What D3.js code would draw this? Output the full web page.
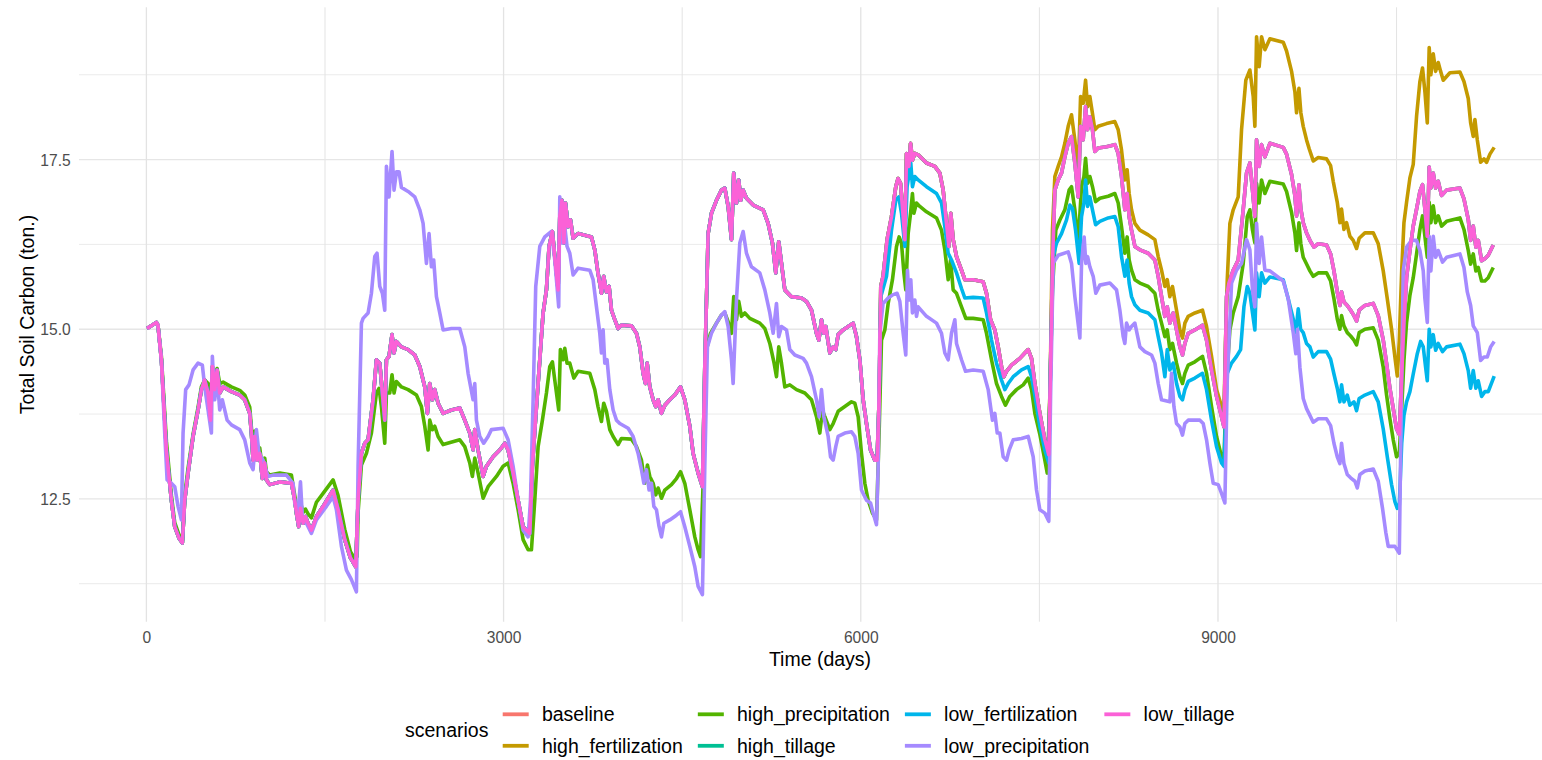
<!DOCTYPE html>
<html>
<head>
<meta charset="utf-8">
<script src="https://cdn.jsdelivr.net/npm/d3@7"></script>
<style>
body{margin:0;background:#fff;}
svg{display:block;font-family:"Liberation Sans",Arial,Helvetica,sans-serif;}
</style>
</head>
<body>
<div id="chart"></div>
<script>
// scenario names, in legend / drawing order
const scenarios=['baseline','high_fertilization','high_precipitation','high_tillage','low_fertilization','low_precipitation','low_tillage']
const colors=['#F8766D','#C49A00','#53B400','#00C094','#00B6EB','#A58AFF','#FB61D7']
const xTicks=[0,3000,6000,9000]
const xMinor=[1500,4500,7500,10500]
const yTicks=[12.5,15,17.5]
const yMinor=[11.25,13.75,16.25,18.75]

// [day, total soil carbon]
const lowTillage=[[5,15.01],[84,15.10],[97,15.06],[126,14.55],[168,13.22],[210,12.48],[238,12.09],[274,11.92],[302,11.85],[322,12.48],[350,12.88],[392,13.42],[434,13.81],[462,14.11],[490,14.25],[518,14.06],[538,13.66],[554,14.45],[574,14.11],[594,14.40],[616,14.06],[644,14.15],[714,14.08],[784,14.03],[826,13.96],[868,13.76],[882,13.47],[896,13.07],[910,13.42],[929,13.07],[952,13.17],[974,12.80],[994,13.03],[1008,12.78],[1036,12.71],[1120,12.75],[1218,12.73],[1246,12.48],[1260,12.29],[1279,12.09],[1294,12.36],[1316,12.14],[1336,12.24],[1358,12.14],[1386,12.04],[1428,12.24],[1484,12.39],[1568,12.63],[1610,12.34],[1666,11.90],[1714,11.63],[1758,11.50],[1778,12.48],[1806,13.17],[1834,13.32],[1862,13.37],[1904,13.96],[1932,14.55],[1960,14.50],[1982,14.06],[2002,13.66],[2016,14.55],[2038,14.60],[2063,14.92],[2080,14.65],[2100,14.82],[2142,14.74],[2198,14.70],[2254,14.62],[2296,14.45],[2338,14.15],[2360,13.76],[2380,14.20],[2402,13.96],[2422,14.11],[2450,13.91],[2492,13.76],[2562,13.81],[2632,13.84],[2674,13.66],[2716,13.47],[2744,13.22],[2758,13.52],[2786,13.22],[2828,12.83],[2856,12.98],[2912,13.12],[2968,13.22],[3010,13.32],[3038,13.22],[3080,12.88],[3122,12.48],[3164,12.09],[3220,11.99],[3242,12.98],[3270,13.71],[3304,14.55],[3332,15.24],[3360,15.58],[3382,16.22],[3410,16.44],[3430,16.07],[3458,15.58],[3472,16.66],[3491,16.90],[3506,16.27],[3520,16.86],[3542,16.51],[3562,16.61],[3584,16.34],[3626,16.41],[3738,16.36],[3766,16.17],[3793,15.83],[3822,15.53],[3841,15.78],[3864,15.55],[3886,15.63],[3906,15.28],[3934,15.14],[3962,15.01],[3990,15.06],[4074,15.05],[4116,14.94],[4144,14.74],[4172,14.35],[4192,14.20],[4206,14.50],[4228,14.15],[4256,13.96],[4278,13.86],[4298,13.96],[4326,13.76],[4354,13.88],[4396,13.96],[4438,14.03],[4486,14.15],[4522,13.96],[4564,13.57],[4592,13.17],[4634,12.88],[4670,12.68],[4690,14.45],[4718,16.41],[4746,16.71],[4788,16.90],[4830,17.05],[4858,17.08],[4886,16.81],[4914,16.32],[4933,17.30],[4956,16.86],[4975,17.20],[4992,16.90],[5012,17.05],[5040,16.93],[5096,16.83],[5180,16.76],[5222,16.56],[5258,16.27],[5286,15.83],[5311,16.29],[5334,15.97],[5362,15.58],[5418,15.48],[5502,15.46],[5544,15.41],[5586,15.28],[5628,14.94],[5648,14.84],[5670,15.14],[5690,14.94],[5706,15.04],[5740,14.65],[5768,14.74],[5790,14.70],[5810,14.92],[5852,14.99],[5894,15.04],[5936,15.09],[5964,14.89],[5992,14.55],[6020,13.96],[6048,13.61],[6082,13.22],[6118,13.07],[6137,13.07],[6154,13.96],[6168,15.63],[6187,15.78],[6221,16.32],[6258,16.66],[6294,17.10],[6313,17.22],[6334,17.15],[6356,16.66],[6370,16.32],[6384,17.59],[6404,17.40],[6418,17.74],[6434,17.49],[6454,17.59],[6482,17.57],[6552,17.45],[6622,17.40],[6664,17.30],[6692,17.05],[6720,16.56],[6740,16.22],[6756,16.71],[6776,16.32],[6804,16.07],[6846,15.87],[6874,15.73],[6944,15.73],[7028,15.70],[7056,15.53],[7090,15.14],[7126,14.99],[7154,14.74],[7182,14.45],[7202,14.30],[7224,14.38],[7266,14.47],[7336,14.57],[7378,14.65],[7406,14.70],[7434,14.57],[7462,14.20],[7504,13.76],[7546,13.37],[7579,13.15],[7594,14.50],[7610,15.97],[7630,17.05],[7658,17.20],[7686,17.30],[7714,17.54],[7742,17.74],[7770,17.84],[7798,17.45],[7826,16.95],[7846,17.99],[7868,17.79],[7888,18.28],[7905,17.94],[7924,18.13],[7946,17.94],[7966,17.62],[7994,17.67],[8064,17.69],[8134,17.72],[8162,17.59],[8190,17.25],[8218,16.76],[8237,17.00],[8254,16.66],[8274,16.46],[8302,16.22],[8344,16.17],[8414,16.12],[8470,16.02],[8498,15.78],[8526,15.48],[8554,15.19],[8574,15.33],[8596,15.09],[8624,15.24],[8652,14.99],[8680,14.74],[8702,14.62],[8722,14.79],[8750,14.94],[8806,14.99],[8870,15.06],[8904,14.84],[8946,14.40],[8988,14.01],[9030,13.71],[9050,13.56],[9072,15.48],[9092,15.68],[9128,15.87],[9170,16.02],[9212,16.76],[9240,17.30],[9268,17.45],[9290,17.05],[9310,16.66],[9324,17.79],[9346,17.40],[9366,17.72],[9394,17.54],[9436,17.74],[9548,17.68],[9576,17.58],[9618,17.28],[9646,16.97],[9660,16.67],[9680,17.13],[9696,16.77],[9716,16.57],[9744,16.42],[9772,16.31],[9806,16.21],[9842,16.26],[9912,16.24],[9946,16.11],[9974,15.86],[10002,15.55],[10024,15.35],[10038,15.55],[10058,15.40],[10086,15.35],[10114,15.28],[10142,15.20],[10164,15.12],[10186,15.28],[10234,15.35],[10304,15.38],[10346,15.20],[10388,14.84],[10416,14.49],[10444,14.13],[10472,13.83],[10500,13.53],[10523,13.45],[10543,14.34],[10562,15.10],[10584,15.76],[10612,16.16],[10640,16.52],[10668,16.77],[10696,17.03],[10718,17.13],[10738,16.77],[10758,16.37],[10774,17.39],[10788,17.08],[10808,17.30],[10828,17.08],[10850,17.18],[10878,16.97],[10920,17.05],[11032,17.08],[11066,16.92],[11102,16.62],[11122,16.31],[11144,16.52],[11166,16.21],[11186,16.31],[11214,16.01],[11242,16.04],[11270,16.09],[11312,16.24]]

// baseline and high_tillage sit right under low_tillage the whole way
const baseline=lowTillage
const highTillage=lowTillage

// high_fertilization only separates from low_tillage after ~7590 days
const highFertLate=[[7594,14.60],[7610,16.46],[7630,17.25],[7658,17.40],[7686,17.54],[7714,17.74],[7742,17.99],[7770,18.16],[7798,17.79],[7826,17.30],[7846,18.43],[7868,18.33],[7888,18.67],[7905,18.28],[7924,18.43],[7946,18.18],[7966,17.94],[7994,17.99],[8064,18.03],[8134,18.06],[8162,17.94],[8190,17.64],[8218,17.20],[8237,17.35],[8254,17.00],[8274,16.76],[8302,16.56],[8344,16.46],[8414,16.39],[8470,16.32],[8498,16.07],[8526,15.87],[8554,15.63],[8574,15.73],[8596,15.48],[8618,15.63],[8652,15.28],[8680,14.99],[8702,14.87],[8722,15.09],[8750,15.19],[8806,15.24],[8870,15.28],[8904,15.04],[8946,14.60],[8988,14.11],[9030,13.86],[9050,13.76],[9066,14.99],[9078,15.73],[9100,16.56],[9128,16.76],[9170,16.95],[9198,17.94],[9234,18.67],[9268,18.82],[9296,18.43],[9310,17.99],[9324,19.31],[9346,18.87],[9366,19.31],[9394,19.12],[9436,19.28],[9548,19.23],[9576,19.10],[9618,18.80],[9646,18.50],[9660,18.19],[9680,18.55],[9696,18.19],[9716,17.99],[9744,17.79],[9766,17.66],[9800,17.48],[9842,17.53],[9912,17.51],[9946,17.41],[9968,17.18],[10002,16.87],[10024,16.57],[10038,16.77],[10058,16.47],[10080,16.57],[10108,16.37],[10136,16.31],[10164,16.19],[10186,16.34],[10234,16.42],[10304,16.42],[10346,16.26],[10388,15.86],[10422,15.45],[10458,15.00],[10486,14.59],[10506,14.31],[10523,14.84],[10543,15.86],[10562,16.57],[10584,16.87],[10612,17.23],[10640,17.43],[10668,18.14],[10696,18.65],[10718,18.85],[10738,18.50],[10758,18.04],[10774,19.15],[10788,18.75],[10808,19.06],[10828,18.80],[10850,18.93],[10870,18.80],[10892,18.67],[10948,18.78],[11032,18.79],[11066,18.65],[11102,18.40],[11122,18.04],[11144,17.84],[11158,18.09],[11178,17.79],[11206,17.46],[11234,17.51],[11256,17.46],[11284,17.58],[11320,17.68]]
const highFert=lowTillage.filter(d=>d[0]<7590).concat(highFertLate)

// low_fertilization only separates after ~6160 days
const lowFertLate=[[6168,15.48],[6216,15.78],[6258,16.46],[6294,16.90],[6319,16.95],[6342,16.71],[6370,16.22],[6389,17.10],[6420,17.45],[6434,17.10],[6454,17.25],[6482,17.20],[6552,17.10],[6636,17.00],[6678,16.86],[6706,16.51],[6734,16.12],[6762,16.02],[6804,15.83],[6846,15.60],[6874,15.46],[6944,15.47],[7028,15.46],[7056,15.24],[7098,14.84],[7140,14.50],[7182,14.25],[7210,14.11],[7238,14.20],[7280,14.30],[7350,14.40],[7406,14.45],[7434,14.30],[7462,14.03],[7504,13.57],[7546,13.22],[7579,13.03],[7594,14.50],[7616,16.07],[7644,16.27],[7686,16.41],[7728,16.61],[7756,16.83],[7778,16.78],[7804,16.46],[7834,15.97],[7854,16.66],[7874,16.86],[7888,17.20],[7905,16.81],[7924,16.95],[7946,16.76],[7972,16.54],[8008,16.59],[8078,16.64],[8134,16.66],[8162,16.51],[8190,16.07],[8218,15.78],[8237,16.02],[8254,15.68],[8274,15.48],[8302,15.36],[8344,15.28],[8414,15.24],[8470,15.14],[8498,14.89],[8526,14.65],[8554,14.30],[8574,14.70],[8596,14.40],[8624,14.50],[8652,14.20],[8680,14.01],[8702,13.96],[8722,14.11],[8750,14.23],[8806,14.28],[8870,14.35],[8904,14.11],[8946,13.66],[8988,13.27],[9030,13.03],[9050,12.98],[9078,14.35],[9114,14.50],[9156,14.60],[9190,14.70],[9218,15.33],[9246,15.63],[9268,15.53],[9290,15.24],[9310,14.99],[9324,15.83],[9346,15.48],[9366,15.83],[9394,15.68],[9436,15.77],[9548,15.73],[9590,15.45],[9632,15.15],[9654,14.95],[9674,15.30],[9694,15.00],[9716,14.95],[9744,14.79],[9772,14.74],[9800,14.59],[9842,14.67],[9912,14.67],[9946,14.56],[9974,14.34],[10002,14.13],[10024,13.93],[10038,14.18],[10058,13.93],[10086,14.03],[10108,13.88],[10142,13.93],[10164,13.80],[10186,13.98],[10234,14.03],[10304,14.08],[10346,13.93],[10388,13.53],[10422,13.12],[10458,12.71],[10486,12.46],[10506,12.36],[10523,12.41],[10543,13.32],[10562,13.73],[10584,13.93],[10612,14.08],[10640,14.34],[10674,14.64],[10702,14.82],[10724,14.74],[10744,14.44],[10758,14.24],[10774,15.00],[10788,14.74],[10808,14.92],[10828,14.69],[10850,14.79],[10886,14.67],[10920,14.74],[11032,14.78],[11066,14.64],[11102,14.39],[11122,14.13],[11144,14.39],[11166,14.13],[11186,14.24],[11214,14.01],[11242,14.08],[11270,14.08],[11320,14.31]]
const lowFert=lowTillage.filter(d=>d[0]<6160).concat(lowFertLate)

const highPrecip=[[5,15.01],[84,15.10],[97,15.06],[126,14.60],[168,13.35],[210,12.55],[238,12.15],[274,11.97],[302,11.88],[322,12.55],[350,12.95],[392,13.45],[434,13.85],[462,14.15],[490,14.25],[518,14.20],[538,13.90],[554,14.40],[574,14.30],[594,14.42],[616,14.20],[644,14.22],[714,14.15],[784,14.10],[826,14.03],[868,13.85],[882,13.55],[896,13.25],[910,13.50],[929,13.20],[952,13.25],[974,12.95],[994,13.10],[1008,12.90],[1036,12.85],[1120,12.88],[1218,12.85],[1246,12.55],[1260,12.40],[1279,12.25],[1294,12.45],[1316,12.30],[1336,12.35],[1358,12.28],[1386,12.22],[1428,12.45],[1484,12.58],[1568,12.78],[1610,12.55],[1666,12.05],[1714,11.72],[1750,11.62],[1770,11.65],[1778,12.30],[1806,13.00],[1848,13.17],[1890,13.47],[1932,14.06],[1954,14.13],[1974,13.86],[2002,13.32],[2016,14.06],[2044,14.06],[2063,14.33],[2080,14.06],[2100,14.23],[2142,14.15],[2198,14.11],[2268,14.03],[2310,13.86],[2338,13.57],[2366,13.22],[2380,13.66],[2402,13.52],[2422,13.57],[2450,13.42],[2492,13.30],[2632,13.37],[2674,13.27],[2716,13.03],[2738,12.83],[2758,13.10],[2786,12.88],[2828,12.51],[2870,12.68],[2940,12.83],[2996,12.98],[3038,13.03],[3080,12.73],[3122,12.34],[3164,11.90],[3206,11.75],[3234,11.75],[3262,12.48],[3290,13.27],[3326,13.66],[3360,14.06],[3388,14.45],[3410,14.52],[3430,14.25],[3463,13.81],[3477,14.70],[3500,14.55],[3514,14.72],[3533,14.50],[3556,14.50],[3590,14.28],[3626,14.38],[3724,14.35],[3766,14.11],[3793,13.86],[3822,13.64],[3841,13.91],[3864,13.79],[3892,13.52],[3920,13.42],[3962,13.30],[3990,13.39],[4074,13.38],[4116,13.27],[4158,13.07],[4186,12.73],[4208,13.00],[4228,12.83],[4256,12.73],[4278,12.56],[4298,12.66],[4326,12.51],[4354,12.63],[4410,12.71],[4452,12.80],[4486,12.90],[4522,12.73],[4564,12.34],[4606,11.94],[4634,11.75],[4654,11.65],[4676,12.73],[4704,14.70],[4738,14.94],[4788,15.09],[4830,15.21],[4858,15.24],[4886,15.11],[4914,14.94],[4933,15.48],[4956,15.14],[4975,15.41],[4998,15.19],[5026,15.24],[5068,15.16],[5152,15.09],[5194,15.01],[5236,14.79],[5272,14.50],[5292,14.30],[5311,14.74],[5334,14.50],[5362,14.15],[5404,14.18],[5460,14.11],[5530,14.06],[5586,13.96],[5628,13.71],[5656,13.47],[5678,13.81],[5698,13.71],[5740,13.52],[5768,13.61],[5810,13.79],[5866,13.86],[5922,13.93],[5950,13.91],[5978,13.71],[6006,13.17],[6034,12.73],[6062,12.48],[6098,12.29],[6132,12.19],[6154,13.47],[6174,14.84],[6202,14.99],[6230,15.38],[6266,15.73],[6300,16.22],[6322,16.36],[6342,16.27],[6362,15.83],[6378,15.58],[6398,16.41],[6418,16.71],[6434,17.00],[6446,16.71],[6468,16.86],[6496,16.81],[6552,16.73],[6636,16.64],[6678,16.46],[6706,16.17],[6734,15.73],[6754,16.02],[6776,15.58],[6804,15.53],[6846,15.33],[6882,15.16],[6944,15.16],[7028,15.14],[7056,14.94],[7098,14.55],[7140,14.20],[7182,14.01],[7215,13.88],[7252,14.01],[7308,14.11],[7364,14.18],[7406,14.28],[7434,14.11],[7462,13.76],[7504,13.45],[7546,13.07],[7566,12.88],[7588,14.01],[7610,15.58],[7638,16.46],[7672,16.61],[7714,16.76],[7750,17.05],[7770,17.10],[7798,16.76],[7826,16.27],[7854,17.10],[7874,17.25],[7888,17.52],[7905,17.15],[7924,17.25],[7946,17.10],[7972,16.88],[8008,16.93],[8078,16.96],[8134,17.00],[8162,16.86],[8190,16.51],[8218,16.12],[8237,16.36],[8254,16.02],[8274,15.87],[8302,15.73],[8344,15.68],[8414,15.63],[8470,15.53],[8498,15.28],[8526,15.09],[8554,14.89],[8574,14.99],[8596,14.70],[8618,14.79],[8652,14.50],[8680,14.30],[8702,14.20],[8722,14.35],[8750,14.47],[8806,14.52],[8870,14.60],[8904,14.35],[8946,13.86],[8988,13.42],[9030,13.12],[9050,13.07],[9072,14.25],[9100,14.99],[9128,15.24],[9170,15.48],[9212,15.97],[9246,16.66],[9268,16.76],[9290,16.46],[9310,16.27],[9324,17.15],[9346,16.86],[9366,17.20],[9394,17.00],[9436,17.18],[9548,17.14],[9576,17.03],[9618,16.72],[9646,16.42],[9660,16.16],[9680,16.57],[9696,16.26],[9716,16.06],[9744,15.96],[9772,15.86],[9800,15.78],[9842,15.83],[9912,15.83],[9946,15.71],[9974,15.45],[10002,15.15],[10024,15.00],[10038,15.20],[10058,15.05],[10086,14.95],[10114,14.90],[10142,14.84],[10164,14.77],[10186,14.95],[10234,15.00],[10304,15.02],[10346,14.84],[10388,14.44],[10416,14.03],[10444,13.68],[10472,13.37],[10500,13.12],[10523,13.17],[10543,13.83],[10562,14.54],[10584,15.10],[10612,15.50],[10640,15.76],[10668,16.11],[10696,16.47],[10718,16.67],[10738,16.37],[10758,16.06],[10774,16.87],[10788,16.57],[10808,16.82],[10828,16.57],[10850,16.67],[10878,16.52],[10920,16.59],[11032,16.64],[11066,16.47],[11102,16.16],[11122,15.96],[11144,16.11],[11166,15.86],[11186,15.91],[11214,15.71],[11242,15.71],[11270,15.76],[11312,15.91]]

const lowPrecip=[[5,15.01],[84,15.10],[97,15.06],[126,14.55],[154,13.47],[174,12.78],[210,12.73],[238,12.68],[266,12.39],[294,12.19],[308,13.47],[330,14.11],[358,14.18],[392,14.40],[434,14.50],[470,14.47],[490,14.15],[518,13.81],[546,13.47],[554,14.60],[574,13.96],[594,14.30],[616,13.81],[638,13.96],[678,13.66],[714,13.59],[784,13.52],[826,13.37],[868,13.03],[896,12.93],[924,13.52],[946,13.17],[980,13.07],[1022,12.83],[1064,12.85],[1176,12.85],[1232,12.73],[1246,12.44],[1274,12.29],[1294,12.75],[1310,12.24],[1344,12.14],[1386,11.99],[1428,12.19],[1512,12.39],[1568,12.53],[1596,12.34],[1638,11.80],[1680,11.45],[1722,11.31],[1764,11.13],[1778,12.98],[1806,15.09],[1820,15.16],[1862,15.24],[1890,15.53],[1918,16.07],[1937,16.12],[1960,15.63],[1982,15.53],[2002,15.28],[2016,17.40],[2038,16.95],[2063,17.62],[2080,17.05],[2100,17.32],[2122,17.32],[2142,17.09],[2198,17.03],[2254,16.95],[2296,16.76],[2324,16.56],[2352,15.97],[2374,16.41],[2394,15.92],[2413,16.02],[2436,15.48],[2464,15.24],[2492,14.99],[2562,15.01],[2632,15.01],[2674,14.74],[2702,14.35],[2744,13.96],[2758,14.20],[2772,13.66],[2800,13.42],[2833,13.32],[2870,13.42],[2898,13.52],[2996,13.54],[3038,13.37],[3080,12.98],[3122,12.48],[3164,12.04],[3206,11.94],[3226,12.48],[3248,13.96],[3270,15.63],[3304,16.22],[3346,16.36],[3402,16.44],[3430,16.02],[3449,15.63],[3463,15.33],[3472,16.95],[3491,16.27],[3514,16.51],[3533,16.22],[3556,16.12],[3584,15.80],[3626,15.90],[3724,15.87],[3752,15.73],[3780,15.33],[3808,14.94],[3822,14.65],[3836,14.99],[3850,14.50],[3869,14.55],[3892,14.11],[3920,13.81],[3948,13.66],[3976,13.61],[4046,13.54],[4088,13.42],[4130,13.17],[4158,12.93],[4178,12.73],[4200,12.93],[4222,12.63],[4242,12.73],[4262,12.39],[4284,12.34],[4306,12.09],[4326,11.94],[4346,12.14],[4396,12.19],[4452,12.26],[4486,12.31],[4522,12.09],[4564,11.80],[4606,11.50],[4634,11.21],[4670,11.09],[4690,12.98],[4712,14.74],[4746,14.94],[4788,15.09],[4830,15.21],[4858,15.26],[4886,15.04],[4914,14.55],[4928,14.20],[4956,15.43],[4984,16.27],[5012,16.44],[5040,16.12],[5082,15.92],[5152,15.83],[5194,15.58],[5236,15.24],[5264,14.94],[5292,15.38],[5311,14.89],[5334,15.04],[5376,14.99],[5404,14.70],[5446,14.62],[5516,14.57],[5544,14.50],[5586,14.30],[5628,13.96],[5650,13.71],[5670,14.11],[5690,13.71],[5726,13.42],[5746,13.12],[5768,13.07],[5790,13.27],[5810,13.42],[5866,13.47],[5922,13.49],[5950,13.42],[5978,13.17],[6006,12.63],[6048,12.48],[6082,12.44],[6104,12.29],[6132,12.12],[6146,12.98],[6160,14.94],[6187,15.38],[6230,15.46],[6272,15.51],[6305,15.53],[6328,15.41],[6356,14.94],[6378,14.62],[6392,15.87],[6406,15.43],[6420,15.73],[6434,15.24],[6454,15.43],[6468,15.19],[6482,15.33],[6552,15.19],[6636,15.09],[6678,14.94],[6706,14.65],[6734,14.55],[6762,14.94],[6790,15.14],[6804,14.79],[6846,14.55],[6880,14.38],[6944,14.40],[7028,14.38],[7070,14.11],[7106,13.66],[7126,13.76],[7146,13.47],[7168,13.47],[7196,13.12],[7224,13.07],[7246,13.22],[7280,13.37],[7350,13.39],[7406,13.42],[7448,13.12],[7476,12.63],[7504,12.34],[7546,12.29],[7579,12.17],[7594,14.01],[7616,15.97],[7658,16.09],[7742,16.14],[7770,15.97],[7798,15.48],[7840,14.87],[7854,15.97],[7876,16.36],[7890,15.97],[7905,16.07],[7924,15.92],[7952,15.78],[7974,15.53],[8008,15.65],[8092,15.68],[8148,15.58],[8176,15.28],[8204,14.89],[8218,14.79],[8232,15.09],[8254,14.99],[8274,15.04],[8302,15.09],[8344,14.74],[8386,14.67],[8442,14.62],[8470,14.50],[8498,14.20],[8526,13.96],[8596,13.93],[8610,14.35],[8630,13.86],[8652,13.61],[8680,13.56],[8702,13.44],[8722,13.61],[8750,13.66],[8848,13.66],[8876,13.61],[8904,13.37],[8932,13.03],[8960,12.73],[9002,12.71],[9030,12.58],[9058,12.44],[9078,14.25],[9114,15.68],[9156,15.87],[9198,15.97],[9240,16.32],[9268,16.17],[9290,15.58],[9310,15.33],[9324,16.56],[9346,15.97],[9366,16.36],[9394,15.87],[9436,15.86],[9548,15.71],[9590,15.45],[9632,14.95],[9654,14.64],[9668,15.00],[9688,14.44],[9716,13.98],[9744,13.83],[9772,13.73],[9800,13.63],[9842,13.68],[9912,13.68],[9946,13.58],[9974,13.32],[10002,13.12],[10024,13.02],[10038,13.32],[10058,13.02],[10086,12.86],[10114,12.81],[10150,12.76],[10170,12.66],[10192,12.86],[10234,12.91],[10304,12.94],[10346,12.76],[10382,12.36],[10410,12.00],[10430,11.80],[10486,11.80],[10523,11.70],[10543,14.34],[10556,15.86],[10584,16.21],[10626,16.31],[10668,16.31],[10696,16.16],[10724,15.86],[10738,15.45],[10758,15.10],[10774,16.37],[10788,15.86],[10808,16.37],[10828,16.06],[10850,16.16],[10886,15.99],[10920,16.06],[11032,16.11],[11066,15.91],[11094,15.55],[11122,15.35],[11144,15.05],[11178,14.95],[11206,14.54],[11234,14.59],[11262,14.59],[11290,14.74],[11320,14.82]]

const seriesData=[baseline,highFert,highPrecip,highTillage,lowFert,lowPrecip,lowTillage]

const w=1542, h=760
const padL=79, padR=1561, padT=7.3, padB=621.7

const xScale=d3.scaleLinear().domain([-566,11881]).range([padL,padR])
const yScale=d3.scaleLinear().domain([10.69,19.744]).range([padB,padT])

const svg=d3.select('#chart').append('svg').attr('width',w).attr('height',h)
svg.append('rect').attr('width',w).attr('height',h).attr('fill','#fff')

// grid
const grid=svg.append('g')
grid.selectAll('.ym').data(yMinor).enter().append('line')
  .attr('x1',padL).attr('x2',padR).attr('y1',d=>yScale(d)).attr('y2',d=>yScale(d))
  .attr('stroke','#EBEBEB').attr('stroke-width',1)
grid.selectAll('.xm').data(xMinor).enter().append('line')
  .attr('y1',padT).attr('y2',padB).attr('x1',d=>xScale(d)).attr('x2',d=>xScale(d))
  .attr('stroke','#E3E3E3').attr('stroke-width',1)
grid.selectAll('.yM').data(yTicks).enter().append('line')
  .attr('x1',padL).attr('x2',padR).attr('y1',d=>yScale(d)).attr('y2',d=>yScale(d))
  .attr('stroke','#E6E6E6').attr('stroke-width',1.3)
grid.selectAll('.xM').data(xTicks).enter().append('line')
  .attr('y1',padT).attr('y2',padB).attr('x1',d=>xScale(d)).attr('x2',d=>xScale(d))
  .attr('stroke','#E3E3E3').attr('stroke-width',1.3)

// lines
svg.append('clipPath').attr('id','clip').append('rect')
  .attr('x',padL).attr('y',padT).attr('width',padR-padL).attr('height',padB-padT)
const line=d3.line().x(d=>xScale(d[0])).y(d=>yScale(d[1]))
svg.append('g').attr('clip-path','url(#clip)')
  .selectAll('path').data(seriesData).enter().append('path')
  .attr('d',line).attr('fill','none')
  .attr('stroke',(d,i)=>colors[i]).attr('stroke-width',3.6)
  .attr('stroke-linejoin','round')

// axes (ggplot minimal: labels only)
const xAxis=d3.axisBottom(xScale).tickValues(xTicks).tickSize(0).tickPadding(0).tickFormat(d3.format('d'))
const yAxis=d3.axisLeft(yScale).tickValues(yTicks).tickSize(0).tickPadding(0).tickFormat(d3.format('.1f'))
const gx=svg.append('g').attr('transform','translate(0,'+(padB+21.5)+')').call(xAxis)
gx.select('.domain').remove()
gx.selectAll('text').attr('dy',0).attr('y',0).attr('font-size',15.6).attr('fill','#4D4D4D').attr('font-family','Liberation Sans, Arial, sans-serif')
const gy=svg.append('g').attr('transform','translate(70.7,0)').call(yAxis)
gy.select('.domain').remove()
gy.selectAll('text').attr('x',0).attr('dy','0.36em').attr('font-size',15.6).attr('fill','#4D4D4D').attr('font-family','Liberation Sans, Arial, sans-serif')

svg.append('text').text('Time (days)').attr('x',(padL+padR)/2).attr('y',666)
  .attr('text-anchor','middle').attr('font-size',19.5)
svg.append('text').text('Total Soil Carbon (ton.)')
  .attr('transform','translate(33.5,'+((padT+padB)/2)+') rotate(-90)')
  .attr('text-anchor','middle').attr('font-size',19.5)

// legend, 4 columns filled top-down
const leg=svg.append('g')
leg.append('text').text('scenarios').attr('x',405).attr('y',737).attr('font-size',19.5)
let colX=502.7
for(let c=0;c<4;c++){
  let maxW=0
  for(let r=0;r<2;r++){
    const i=c*2+r
    if(i>=scenarios.length) break
    const yy=r==0?714.3:745.8
    leg.append('line').attr('x1',colX).attr('x2',colX+26).attr('y1',yy).attr('y2',yy)
      .attr('stroke',colors[i]).attr('stroke-width',3.8)
    const t=leg.append('text').text(scenarios[i]).attr('x',colX+39.2).attr('y',yy+6.8).attr('font-size',19.5)
    maxW=Math.max(maxW,t.node().getComputedTextLength())
  }
  colX=colX+39.2+maxW+15
}
</script>
</body>
</html>
